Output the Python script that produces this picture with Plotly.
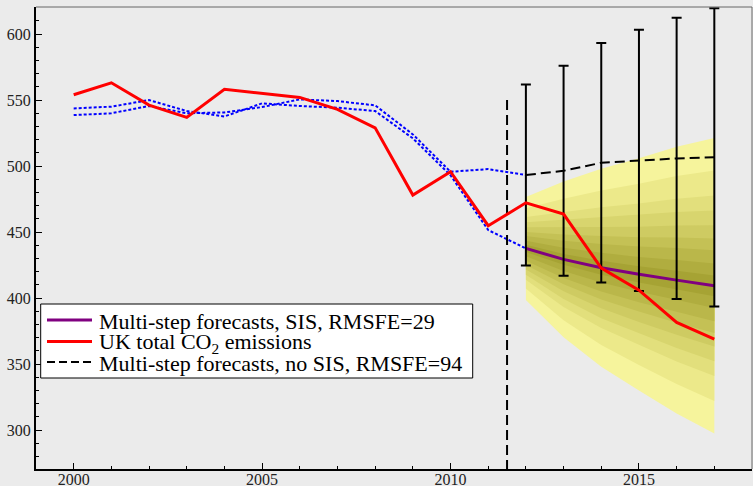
import plotly.graph_objects as go

# ---------------- data ----------------
years_hist = list(range(2000, 2018))
uk_co2 = [554.0, 563.1, 546.2, 536.9, 558.1, 555.0, 552.0, 543.0, 529.0, 478.0,
          495.7, 454.8, 472.2, 463.6, 422.7, 406.0, 381.5, 368.8]

years_fit = list(range(2000, 2013))
fit_sis = [543.7, 545.0, 550.0, 541.7, 537.6, 547.5, 545.5, 544.2, 541.7, 521.0,
           493.0, 451.5, 437.6]
fit_nosis = [538.6, 540.0, 545.5, 540.0, 540.6, 544.7, 550.5, 549.2, 546.0, 524.0,
             495.7, 497.7, 493.2]

years_fc = list(range(2012, 2018))
fc_sis = [437.6, 429.3, 423.0, 418.0, 413.6, 409.3]
fc_nosis = [493.2, 496.4, 502.5, 504.3, 505.8, 506.6]
nosis_err = [68.5, 79.5, 90.7, 99.0, 106.6, 113.0]       # error-bar half widths
fan_halfwidth = [39.0, 59.0, 75.0, 88.0, 101.0, 112.0]    # outer fan half widths
fan_levels = [1.0, 0.78, 0.61, 0.51, 0.41, 0.32, 0.24, 0.15, 0.07]  # band fractions
fan_colors = ["#f6f49c", "#ece98a", "#e2df7c", "#d8d56e", "#cecb62",
              "#c4c155", "#bab74a", "#b0ad3f", "#a6a334"]
forecast_origin = 2011.5
origin_line_top = 550.0

legend_labels = ["Multi-step forecasts, SIS, RMSFE=29",
                 "UK total CO<sub>2</sub> emissions",
                 "Multi-step forecasts, no SIS, RMSFE=94"]

x_ticks = [2000, 2005, 2010, 2015]
y_ticks = [300, 350, 400, 450, 500, 550, 600]
x_range = [1999, 2018]
y_range = [270.5, 620.5]

FONT = "'Liberation Serif', 'Times New Roman', Times, serif"

fig = go.Figure()

# fan chart bands (outer first)
for lev, col in zip(fan_levels, fan_colors):
    upper = [c + lev * h for c, h in zip(fc_sis, fan_halfwidth)]
    lower = [c - lev * h for c, h in zip(fc_sis, fan_halfwidth)]
    fig.add_trace(go.Scatter(
        x=years_fc + years_fc[::-1], y=upper + lower[::-1],
        fill="toself", fillcolor=col, line=dict(width=0),
        mode="lines", showlegend=False, hoverinfo="skip"))

# fitted values (blue dotted)
for fit in (fit_sis, fit_nosis):
    fig.add_trace(go.Scatter(
        x=years_fit, y=fit, mode="lines",
        line=dict(color="#0000ff", width=2, dash="3px,2px"),
        showlegend=False))

# forecast origin vertical dashed line
fig.add_trace(go.Scatter(
    x=[forecast_origin, forecast_origin], y=[origin_line_top, y_range[0]],
    mode="lines", line=dict(color="black", width=2, dash="10px,5px"),
    showlegend=False))

# SIS forecasts
fig.add_trace(go.Scatter(
    x=years_fc, y=fc_sis, mode="lines",
    line=dict(color="#800080", width=3), showlegend=False))

# no-SIS forecasts
fig.add_trace(go.Scatter(
    x=years_fc, y=fc_nosis, mode="lines",
    line=dict(color="black", width=2, dash="10px,5px"), showlegend=False))

# error bars
fig.add_trace(go.Scatter(
    x=years_fc, y=fc_nosis, mode="markers",
    marker=dict(size=1, color="rgba(0,0,0,0)"),
    error_y=dict(type="data", array=nosis_err, symmetric=True,
                 color="black", thickness=2, width=5),
    showlegend=False))

# actual emissions
fig.add_trace(go.Scatter(
    x=years_hist, y=uk_co2, mode="lines",
    line=dict(color="#ff0000", width=3), showlegend=False))

# ---------------- manual legend ----------------
W, H = 753, 486
L, R, T, B = 36, 1, 7, 17
pw, ph = W - L - R, H - T - B


def px(x):
    return (x - L) / pw


def py(y):
    return (H - B - y) / ph


shapes = [
    dict(type="line", xref="paper", yref="paper", x0=0, x1=1, y0=1, y1=1,
         line=dict(color="#666666", width=1)),
    dict(type="line", xref="paper", yref="paper", x0=1, x1=1, y0=0, y1=1,
         line=dict(color="#666666", width=1)),
    dict(type="rect", xref="paper", yref="paper", layer="above",
         x0=px(40.7), x1=px(472.7), y0=py(378), y1=py(304),
         fillcolor="white", line=dict(color="black", width=1)),
]
legend_styles = [dict(color="#800080", width=3),
                 dict(color="#ff0000", width=3),
                 dict(color="black", width=2, dash="8px,4px")]
row_y = [320, 341.5, 362]
annotations = []
for lab, sty, ry in zip(legend_labels, legend_styles, row_y):
    shapes.append(dict(type="line", xref="paper", yref="paper", layer="above",
                       x0=px(47), x1=px(92), y0=py(ry), y1=py(ry), line=sty))
    annotations.append(dict(xref="paper", yref="paper", x=px(97), y=py(ry + 1),
                            xanchor="left", yanchor="middle", showarrow=False,
                            text=lab, font=dict(family=FONT, size=22, color="black")))

fig.update_layout(
    width=W, height=H,
    margin=dict(l=L, r=R, t=T, b=B),
    paper_bgcolor="#ebebeb", plot_bgcolor="#ebebeb",
    font=dict(family=FONT, size=16, color="#222222"),
    showlegend=False,
    xaxis=dict(range=x_range, tickvals=x_ticks, ticks="inside", ticklen=6,
               tickwidth=1, tickcolor="black", showgrid=False, zeroline=False,
               showline=True, linecolor="black", linewidth=2, automargin=False,
               ticklabelstandoff=-5,
               minor=dict(dtick=1, tick0=2000, ticks="inside", ticklen=3,
                          tickcolor="black", showgrid=False)),
    yaxis=dict(range=y_range, tickvals=y_ticks, ticks="inside", ticklen=6,
               tickwidth=1, tickcolor="black", showgrid=False, zeroline=False,
               showline=True, linecolor="black", linewidth=2, automargin=False,
               minor=dict(dtick=10, tick0=300, ticks="inside", ticklen=3,
                          tickcolor="black", showgrid=False)),
    shapes=shapes,
    annotations=annotations,
)

fig.write_html("out.html",
               config={"displayModeBar": False},
               post_script="document.body.style.margin='0px';"
                           "document.body.style.overflow='hidden';")
